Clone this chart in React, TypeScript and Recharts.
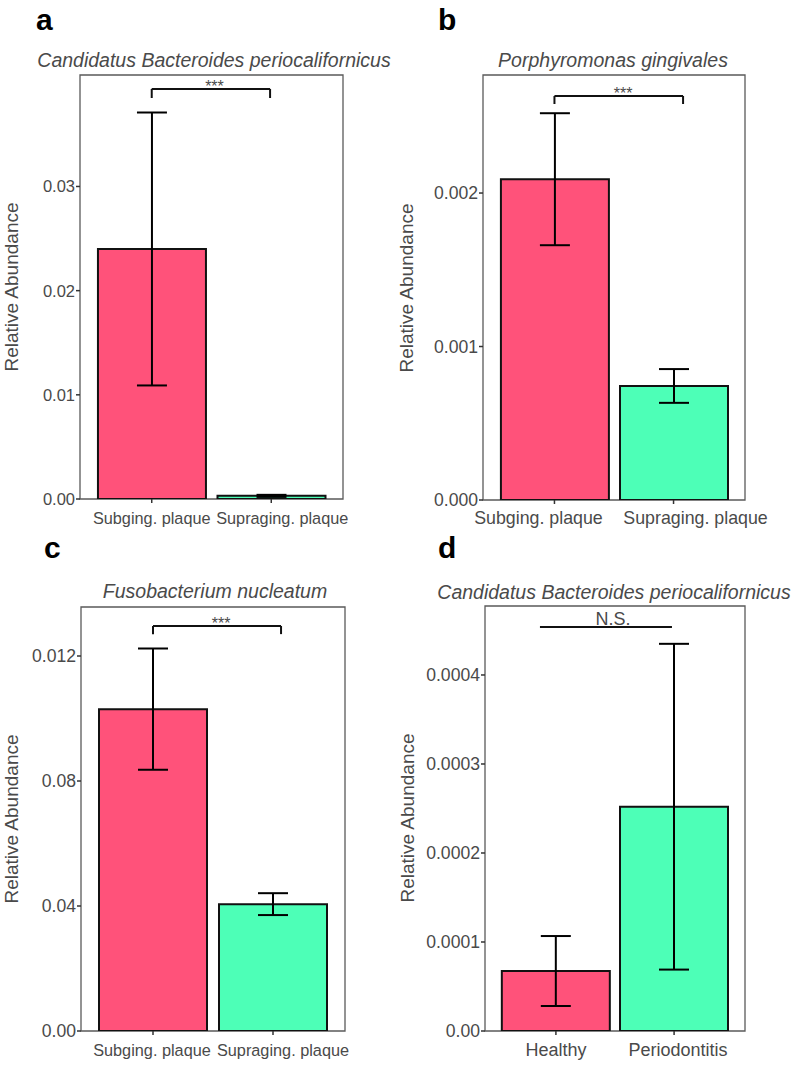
import React from 'react';
import { BarChart, Bar, XAxis, YAxis, ErrorBar, Cell, ReferenceLine, ReferenceArea, ReferenceDot } from 'recharts';

const FONT = '"Liberation Sans", Arial, Helvetica, sans-serif';
const PINK = '#FF527A';
const GREEN = '#4DFFB7';
const FRAME = '#5a5a5a';
const TEXT = '#4a4a4a';

// categories
const plaqueSites = ['Subging. plaque', 'Supraging. plaque'];
const healthGroups = ['Healthy', 'Periodontitis'];

// means and standard errors
const bacteroidesSiteMean = [0.024, 0.0003];
const bacteroidesSiteSe = [0.0131, 0.0001];
const porphyromonasMean = [0.00209, 0.000743];
const porphyromonasSe = [0.00043, 0.00011];
const fusobacteriumMean = [0.0103, 0.00406];
const fusobacteriumSe = [0.00194, 0.00035];
const bacteroidesHealthMean = [0.0000674, 0.000252];
const bacteroidesHealthSe = [0.0000393, 0.000183];

// y axes
const yMaxes = [0.0407, 0.002769, 0.013568, 0.0004775];
const yTicksA = [0, 0.01, 0.02, 0.03];
const yLabelsA = ['0.00', '0.01', '0.02', '0.03'];
const yTicksB = [0, 0.001, 0.002];
const yLabelsB = ['0.000', '0.001', '0.002'];
const yTicksC = [0, 0.004, 0.008, 0.012];
const yLabelsC = ['0.00', '0.04', '0.08', '0.012'];
const yTicksD = [0, 0.0001, 0.0002, 0.0003, 0.0004];
const yLabelsD = ['0.00', '0.0001', '0.0002', '0.0003', '0.0004'];

// significance annotations (x in category units, 1 = first bar)
const sigLabels = ['***', '***', '***', 'N.S.'];
const sigFrom = [1.0, 1.0, 1.0, 0.865];
const sigTo = [1.99, 2.08, 2.067, 1.982];
const sigHeight = [0.03936, 0.002632, 0.01296, 0.000454];
const sigDrop: (number | null)[] = [0.03849, 0.00258, 0.0127, null];
const sigTextX = [1.525, 1.576, 1.567, 1.483];

const letters = ['a', 'b', 'c', 'd'];
const titles = [
  'Candidatus Bacteroides periocalifornicus',
  'Porphyromonas gingivales',
  'Fusobacterium nucleatum',
  'Candidatus Bacteroides periocalifornicus',
];

const panels = [
  { left: 0, top: 0, w: 400, h: 540, yW: 80, mTop: 75, mRight: 57, xH: 41, cats: plaqueSites, mean: bacteroidesSiteMean, se: bacteroidesSiteSe, yTicks: yTicksA, yLabels: yLabelsA, xFont: 16.3, yFont: 16.5, xMargin: 9, xShift: [0, 11] },
  { left: 400, top: 0, w: 398, h: 540, yW: 83, mTop: 75, mRight: 53, xH: 40, cats: plaqueSites, mean: porphyromonasMean, se: porphyromonasSe, yTicks: yTicksB, yLabels: yLabelsB, xFont: 17.8, yFont: 17.6, xMargin: 7, xShift: [-16, 22] },
  { left: 0, top: 540, w: 400, h: 526, yW: 81, mTop: 67, mRight: 55, xH: 35, cats: plaqueSites, mean: fusobacteriumMean, se: fusobacteriumSe, yTicks: yTicksC, yLabels: yLabelsC, xFont: 16.3, yFont: 17.6, xMargin: 9, xShift: [-1, 10] },
  { left: 400, top: 540, w: 398, h: 526, yW: 85, mTop: 66, mRight: 53, xH: 35, cats: healthGroups, mean: bacteroidesHealthMean, se: bacteroidesHealthSe, yTicks: yTicksD, yLabels: yLabelsD, xFont: 18, yFont: 17.6, xMargin: 8, xShift: [0, 4] },
];

// text placement in figure coordinates
const letterPos = [[36, 30], [438, 30], [44, 558], [438, 558]];
const titlePos = [[214, 67], [613, 67], [215, 598], [614, 599]];
const yTitlePos = [[18, 287], [413, 288], [18, 819], [414, 818]];

function Panel({ idx }: { idx: number }) {
  const p = panels[idx];
  const rows = p.cats.map((c, i) => ({ x: i + 1, name: c, value: p.mean[i], se: p.se[i] }));
  const yMax = yMaxes[idx];
  const drop = sigDrop[idx];

  const XTick = (props: any) => {
    const { x, y, payload } = props;
    const i = Math.round(payload.value) - 1;
    return (
      <text x={x + p.xShift[i]} y={y} dy="0.71em" textAnchor="middle" fill={TEXT} fontSize={p.xFont} fontFamily={FONT}>
        {p.cats[i]}
      </text>
    );
  };

  return (
    <div style={{ position: 'absolute', left: p.left, top: p.top }}>
      <BarChart width={p.w} height={p.h} data={rows} margin={{ top: p.mTop, right: p.mRight, bottom: 0, left: 0 }}>
        <XAxis
          type="number"
          dataKey="x"
          domain={[0.4, 2.6]}
          allowDataOverflow
          ticks={[1, 2]}
          interval={0}
          height={p.xH}
          axisLine={false}
          tickLine={{ stroke: '#333', strokeWidth: 1.5 }}
          tickSize={4}
          tickMargin={p.xMargin}
          tick={<XTick />}
        />
        <YAxis
          type="number"
          domain={[0, yMax]}
          allowDataOverflow
          ticks={p.yTicks}
          interval={0}
          width={p.yW}
          axisLine={false}
          tickLine={{ stroke: '#333', strokeWidth: 1.5 }}
          tickSize={4}
          tickMargin={1}
          tickFormatter={(v: number) => p.yLabels[p.yTicks.indexOf(v)]}
          tick={{ fill: TEXT, fontSize: p.yFont, fontFamily: FONT }}
        />
        <ReferenceArea x1={0.4} x2={2.6} y1={0} y2={yMax} fill="none" stroke={FRAME} strokeWidth={1.3} ifOverflow="visible" />
        <Bar dataKey="value" barSize={108} stroke="#111" strokeWidth={2} isAnimationActive={false}>
          {rows.map((_, i) => (
            <Cell key={`c-${i}`} fill={i === 0 ? PINK : GREEN} />
          ))}
          <ErrorBar dataKey="se" width={15} stroke="#000" strokeWidth={2} />
        </Bar>
        <ReferenceLine
          segment={[{ x: sigFrom[idx], y: sigHeight[idx] }, { x: sigTo[idx], y: sigHeight[idx] }]}
          stroke="#111"
          strokeWidth={2}
        />
        {drop !== null && (
          <ReferenceLine segment={[{ x: sigFrom[idx], y: sigHeight[idx] }, { x: sigFrom[idx], y: drop }]} stroke="#111" strokeWidth={2} />
        )}
        {drop !== null && (
          <ReferenceLine segment={[{ x: sigTo[idx], y: sigHeight[idx] }, { x: sigTo[idx], y: drop }]} stroke="#111" strokeWidth={2} />
        )}
        <ReferenceDot
          x={sigTextX[idx]}
          y={sigHeight[idx]}
          r={0}
          stroke="none"
          ifOverflow="visible"
          label={{
            value: sigLabels[idx],
            position: 'top',
            offset: drop !== null ? -3 : 2,
            fill: TEXT,
            fontSize: drop !== null ? 16 : 18,
            fontFamily: FONT,
          }}
        />
      </BarChart>
    </div>
  );
}

export default function App() {
  return (
    <div style={{ position: 'absolute', left: 0, top: 0, width: 798, height: 1066, background: '#fff' }}>
      {panels.map((_, i) => (
        <Panel key={i} idx={i} />
      ))}
      <svg width={798} height={1066} style={{ position: 'absolute', left: 0, top: 0, pointerEvents: 'none' }}>
        {letters.map((l, i) => (
          <text key={`l-${i}`} x={letterPos[i][0]} y={letterPos[i][1]} fontSize={30} fontWeight="bold" fontFamily={FONT} fill="#000">
            {l}
          </text>
        ))}
        {titles.map((t, i) => (
          <text key={`t-${i}`} x={titlePos[i][0]} y={titlePos[i][1]} textAnchor="middle" fontSize={19.5} fontStyle="italic" fontFamily={FONT} fill={TEXT}>
            {t}
          </text>
        ))}
        {yTitlePos.map((pos, i) => (
          <text key={`y-${i}`} transform={`translate(${pos[0]}, ${pos[1]}) rotate(-90)`} textAnchor="middle" fontSize={19} fontFamily={FONT} fill={TEXT}>
            Relative Abundance
          </text>
        ))}
      </svg>
    </div>
  );
}
